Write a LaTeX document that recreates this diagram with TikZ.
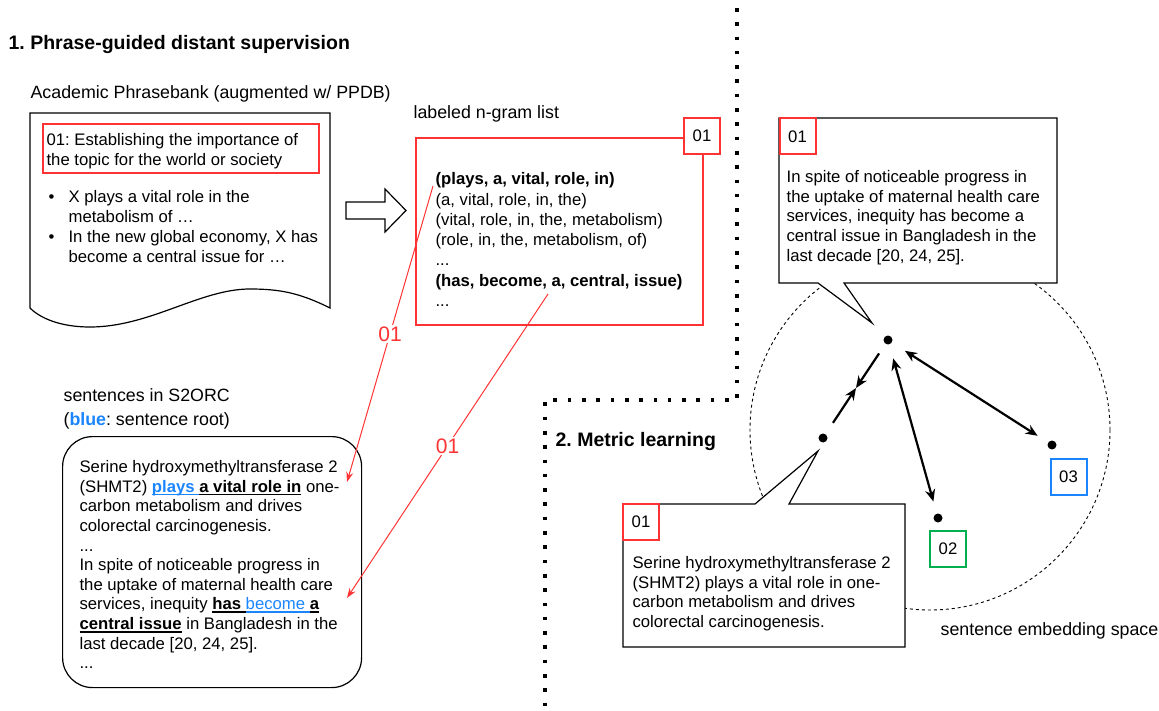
\documentclass[tikz,border=0pt]{standalone}
\usepackage{fontspec}
\setmainfont{Liberation Sans}
\usetikzlibrary{arrows.meta,positioning}
\definecolor{myred}{HTML}{FF3333}
\definecolor{myblue}{HTML}{1A85FF}
\definecolor{mygreen}{HTML}{00B050}
\newsavebox{\ulbox}
\newcommand{\ulin}[1]{\sbox{\ulbox}{#1}\rlap{\rule[-3pt]{\wd\ulbox}{1.6pt}}\usebox{\ulbox}}
\frenchspacing

\begin{document}
\begin{tikzpicture}
	[x=1pt, y=-1pt, line width=1.2pt,
	bodytxt/.style	= {font=\fontsize{16.7}{19.6}\selectfont, inner sep=0pt, align=left, anchor=north west},
	lbltxt/.style	= {font=\fontsize{17.8}{24}\selectfont, inner sep=0pt, anchor=base west},
	ttltxt/.style	= {font=\fontsize{19.5}{23}\selectfont\bfseries, inner sep=0pt, anchor=base west},
	tagbox/.style	= {draw, line width=2pt, fill=white, minimum size=36pt, inner sep=0pt, font=\fontsize{16.7}{19.6}\selectfont},
	frame/.style	= {draw, anchor=north west, inner sep=0pt},
	spot/.style	= {circle, fill=black, inner sep=0pt, minimum size=9pt},
	pull/.style	= {-{Stealth[length=12pt, width=10pt]}, line width=2.2pt},
	push/.style	= {{Stealth[length=12pt, width=10pt]}-{Stealth[length=12pt, width=10pt]}, line width=2.2pt},
	hint/.style	= {-{Stealth[length=10pt, width=7pt]}, draw=myred, line width=1pt},
	hintlabel/.style = {fill=white, text=myred, inner sep=1.5pt, font=\fontsize{21}{24}\selectfont},
	sepline/.style	= {line width=3.6pt, dash pattern=on 3.6pt off 10.7pt},
	embspace/.style	= {line width=0.9pt, dash pattern=on 3pt off 3pt}]
	
	\useasboundingbox (0,0) rectangle (1159,711);
	
	\draw [embspace] (930,430) circle [radius=180];
	\draw [sepline] (737,8) -- (737,400) -- (545,400) -- (545,711);
	
	\node at (8,50)		[ttltxt]	(title1)	{1. Phrase-guided distant supervision};
	\node at (30,99)	[lbltxt]	(apbLabel)	{Academic Phrasebank (augmented w/ PPDB)};
	
	\draw (30,113) -- (330,113) -- (330,308) .. controls (300,293) and (280,289) .. (250,289)
		.. controls (200,289) and (150,327) .. (90,327) .. controls (60,327) and (40,318) .. (30,308) -- cycle;
	\node at (42,123)	[frame, draw=myred, line width=2pt, minimum width=276pt, minimum height=49pt]	(apbHead)	{};
	\node at (46,133)	[bodytxt]	(apbHeadText)	{01: Establishing the importance of\\the topic for the world or society};
	\node at (48,190)	[bodytxt, font=\fontsize{16.7}{20}\selectfont]	(apbItems)	{\makebox[20pt][l]{\textbullet}X plays a vital role in the\\\hspace*{20pt}metabolism of …\\\makebox[20pt][l]{\textbullet}In the new global economy, X has\\\hspace*{20pt}become a central issue for …};
	
	\draw (346,202) -- (385,202) -- (385,189) -- (406,210.5) -- (385,232) -- (385,219) -- (346,219) -- cycle;
	
	\node at (413,119)	[lbltxt]	(ngLabel)	{labeled n-gram list};
	\node at (415,137)	[frame, draw=myred, line width=2pt, minimum width=287pt, minimum height=187pt]	(ngram)	{};
	\node at (702,136)	[tagbox, draw=myred]	(ngTag)	{01};
	\node at (435,172)	[bodytxt, font=\fontsize{16.7}{20.3}\selectfont]	(ngText)	{\textbf{(plays, a, vital, role, in)}\\(a, vital, role, in, the)\\(vital, role, in, the, metabolism)\\(role, in, the, metabolism, of)\\...\\\textbf{(has, become, a, central, issue)}\\...};
	
	\node at (63,401)	[lbltxt]	(s2Label)	{sentences in S2ORC};
	\node at (63,425)	[lbltxt]	(s2Note)	{(\textbf{\color{myblue}blue}: sentence root)};
	\node at (62,436)	[frame, rounded corners=30pt, minimum width=299pt, minimum height=251pt]	(s2orc)	{};
	\node at (79,460)	[bodytxt]	(s2Text)	{Serine hydroxymethyltransferase 2\\(SHMT2) {\color{myblue}\ulin{\textbf{plays }}}\ulin{\textbf{a vital role in}} one-\\carbon metabolism and drives\\colorectal carcinogenesis.\\...\\In spite of noticeable progress in\\the uptake of maternal health care\\services, inequity \ulin{\textbf{has }}{\color{myblue}\ulin{become }}\ulin{\textbf{a}}\\\ulin{\textbf{central issue}} in Bangladesh in the\\last decade [20, 24, 25].\\...};
	
	\coordinate (fromPlays)	at (433,186);
	\coordinate (toPlays)	at (347,482);
	\coordinate (fromHas)	at (548,294);
	\coordinate (toHas)	at (347,598);
	\draw [hint] (fromPlays) -- node [hintlabel, midway] {01} (toPlays);
	\draw [hint] (fromHas) -- node [hintlabel, midway] {01} (toHas);
	
	\node at (555,446)	[ttltxt]	(title2)	{2. Metric learning};
	
	\node at (888,340)	[spot]	(e1)	{};
	\node at (823,438)	[spot]	(e4)	{};
	\node at (938,518)	[spot]	(e2)	{};
	\node at (1052,445)	[spot]	(e3)	{};
	\coordinate (meet) at (856,388);
	\draw [pull, shorten <=11pt] (e1) -- (meet);
	\draw [pull, shorten <=13pt] (e4) -- (meet);
	\draw [push, shorten <=14pt, shorten >=12pt] (e1) -- (e2);
	\draw [push, shorten <=15pt, shorten >=12pt] (e1) -- (e3);
	\node at (948,549)	[tagbox, draw=mygreen]	(tag2)	{02};
	\node at (1068.5,477)	[tagbox, draw=myblue]	(tag3)	{03};
	
	\draw [fill=white] (779,118) -- (1057,118) -- (1057,283) -- (844,283) -- (872,323) -- (818,283) -- (779,283) -- cycle;
	\node at (797.5,136.5)	[tagbox, draw=myred]	(topTag)	{01};
	\node at (786,170)	[bodytxt]	(topText)	{In spite of noticeable progress in\\the uptake of maternal health care\\services, inequity has become a\\central issue in Bangladesh in the\\last decade [20, 24, 25].};
	
	\draw [fill=white] (623,504) -- (755,504) -- (818,451) -- (789,504) -- (905,504) -- (905,647) -- (623,647) -- cycle;
	\node at (641,521.5)	[tagbox, draw=myred]	(lowTag)	{01};
	\node at (632,556)	[bodytxt]	(lowText)	{Serine hydroxymethyltransferase 2\\(SHMT2) plays a vital role in one-\\carbon metabolism and drives\\colorectal carcinogenesis.};
	
	\node at (940,635)	[lbltxt]	(spaceLabel)	{sentence embedding space};
	
\end{tikzpicture}
\end{document}
